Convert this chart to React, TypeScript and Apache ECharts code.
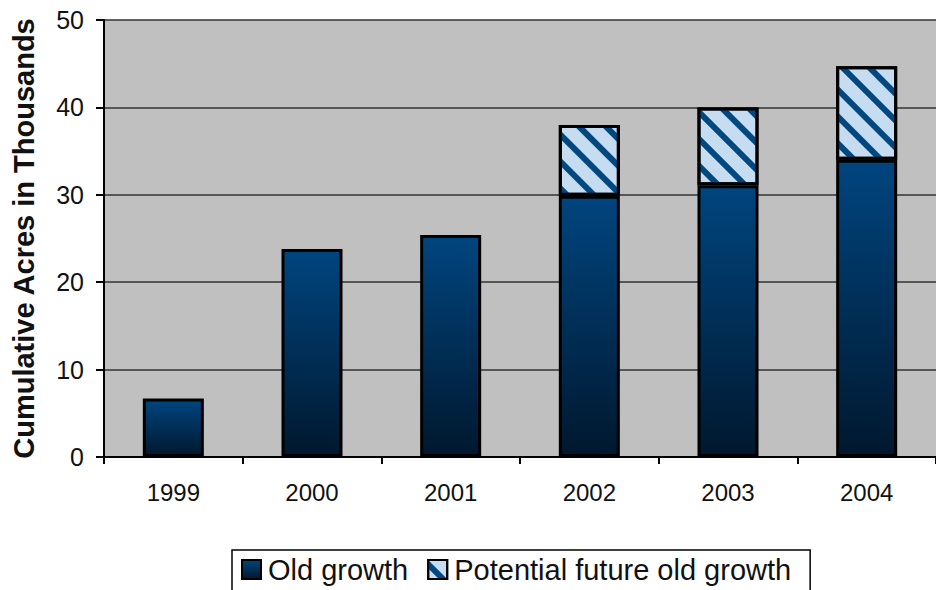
import React, { useEffect, useRef } from "react";
import * as echarts from "echarts";

const years = ["1999", "2000", "2001", "2002", "2003", "2004"];
const oldGrowth = [6.7, 23.8, 25.4, 29.9, 31.1, 34.0];
const potentialFuture = [0, 0, 0, 8.1, 8.9, 10.7];
const yTitle = "Cumulative Acres in Thousands";
const seriesNames = ["Old growth", "Potential future old growth"];

export default function App() {
  const ref = useRef<HTMLDivElement>(null);
  useEffect(() => {
    if (!ref.current) return;
    const chart = echarts.init(ref.current, null, { renderer: "svg" });
    const font = "'Liberation Sans', Arial, sans-serif";
    chart.setOption({
      animation: false,
      backgroundColor: "#ffffff",
      textStyle: { fontFamily: font },
      grid: {
        left: 104,
        top: 20,
        right: -2,
        bottom: 133,
        show: true,
        backgroundColor: "#c0c0c0",
        borderWidth: 0,
      },
      legend: {
        left: 232,
        top: 550,
        padding: [5, 19, 14, 9],
        itemGap: 19,
        itemWidth: 19,
        itemHeight: 19,
        borderColor: "#000",
        borderWidth: 1.5,
        borderRadius: 0,
        backgroundColor: "#fff",
        icon: "rect",
        textStyle: { fontSize: 29, color: "#111", fontFamily: font, padding: [0, 0, 0, 2] },
        data: seriesNames,
      },
      xAxis: {
        type: "category",
        data: years,
        axisLine: { lineStyle: { color: "#000", width: 2 } },
        axisTick: { show: true, length: 7, lineStyle: { color: "#000", width: 2 } },
        axisLabel: { fontSize: 24, color: "#111", margin: 23 },
      },
      yAxis: {
        type: "value",
        min: 0,
        max: 50,
        interval: 10,
        name: yTitle,
        nameLocation: "middle",
        nameGap: 66,
        nameTextStyle: { fontSize: 29, fontWeight: "bold", color: "#111" },
        axisLine: { show: true, lineStyle: { color: "#000", width: 2 } },
        axisTick: { show: true, length: 8, lineStyle: { color: "#000", width: 2 } },
        axisLabel: { fontSize: 25, color: "#111", margin: 20 },
        splitLine: { show: true, lineStyle: { color: "#333", width: 1.5 } },
      },
      series: [
        {
          name: seriesNames[0],
          type: "bar",
          stack: "total",
          barWidth: "44%",
          data: oldGrowth,
          itemStyle: {
            color: new echarts.graphic.LinearGradient(0, 0, 0, 1, [
              { offset: 0, color: "#00457f" },
              { offset: 1, color: "#00182e" },
            ]),
            borderColor: "#000",
            borderWidth: 3,
          },
        },
        {
          name: seriesNames[1],
          type: "bar",
          stack: "total",
          barWidth: "44%",
          data: potentialFuture.map((v) => (v === 0 ? null : v)),
          itemStyle: {
            color: "#c6ddf1",
            borderColor: "#000",
            borderWidth: 3,
            decal: {
              symbol: "rect",
              symbolSize: 1,
              color: "#00487f",
              dashArrayX: [1, 0],
              dashArrayY: [6, 13],
              rotation: Math.PI / 4,
            },
          },
        },
      ],
    });
    return () => chart.dispose();
  }, []);
  return (
    <div
      ref={ref}
      style={{ position: "fixed", left: 0, top: 0, width: 936, height: 590 }}
    />
  );
}
